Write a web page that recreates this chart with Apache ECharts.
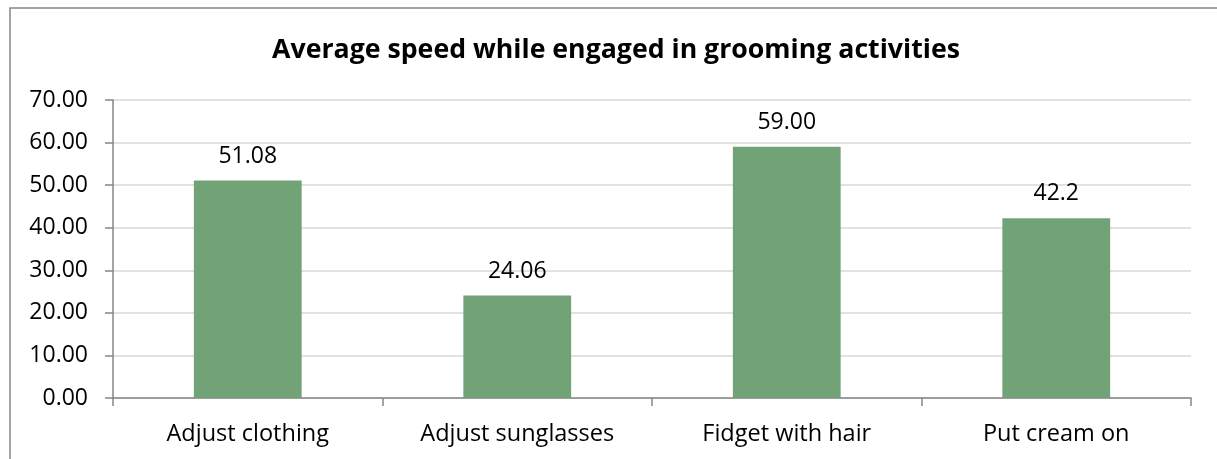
<!DOCTYPE html>
<html>
<head>
<meta charset="utf-8">
<script src="https://cdn.jsdelivr.net/npm/echarts@6/dist/echarts.min.js"></script>
<style>
  html, body { margin: 0; padding: 0; background: #fff; }
  #chart { width: 1217px; height: 459px; }
</style>
</head>
<body>
<div id="chart"></div>
<script>
// Grooming activities and their average speed
const categories = ['Adjust clothing', 'Adjust sunglasses', 'Fidget with hair', 'Put cream on'];
const speeds = [51.08, 24.06, 59.00, 42.2];
const speedLabels = ['51.08', '24.06', '59.00', '42.2'];
const yTicks = { min: 0, max: 70, interval: 10 };

const FONT = '"Open Sans", "Liberation Sans", sans-serif';
const axisGray = '#868686';

const chart = echarts.init(document.getElementById('chart'), null, { renderer: 'canvas' });

chart.setOption({
  animation: false,
  backgroundColor: '#ffffff',
  title: {
    text: 'Average speed while engaged in grooming activities',
    left: 611,
    top: 32,
    textAlign: 'center',
    textStyle: { fontFamily: FONT, fontWeight: 'bold', fontSize: 26.7, color: '#000' }
  },
  graphic: [
    // chart frame (left and top edges)
    {
      type: 'polyline',
      shape: { points: [[10, 459], [10, 8], [1217, 8]] },
      style: { stroke: axisGray, lineWidth: 1.5, fill: null },
      silent: true
    }
  ],
  grid: { left: 113, right: 26, top: 100, bottom: 61, containLabel: false },
  xAxis: {
    type: 'category',
    data: categories,
    boundaryGap: true,
    axisLine: { show: true, lineStyle: { color: axisGray, width: 1.5 } },
    axisTick: { show: true, alignWithLabel: false, length: 8, lineStyle: { color: axisGray, width: 1.5 } },
    axisLabel: { fontFamily: FONT, fontSize: 23.5, color: '#000', margin: 24 },
    splitLine: { show: false }
  },
  yAxis: {
    type: 'value',
    min: yTicks.min,
    max: yTicks.max,
    interval: yTicks.interval,
    axisLine: { show: true, lineStyle: { color: axisGray, width: 1.5 } },
    axisTick: { show: true, length: 8, lineStyle: { color: axisGray, width: 1.5 } },
    axisLabel: {
      fontFamily: FONT, fontSize: 23, color: '#000', margin: 25,
      formatter: v => v.toFixed(2)
    },
    splitLine: { show: true, lineStyle: { color: '#d9d9d9', width: 1.5 } }
  },
  series: [{
    type: 'bar',
    data: speeds,
    barWidth: '40%',
    itemStyle: { color: '#71a376' },
    label: {
      show: true,
      position: 'top',
      distance: 13,
      fontFamily: FONT,
      fontSize: 23,
      color: '#000',
      formatter: p => speedLabels[p.dataIndex]
    }
  }]
});
</script>
</body>
</html>
